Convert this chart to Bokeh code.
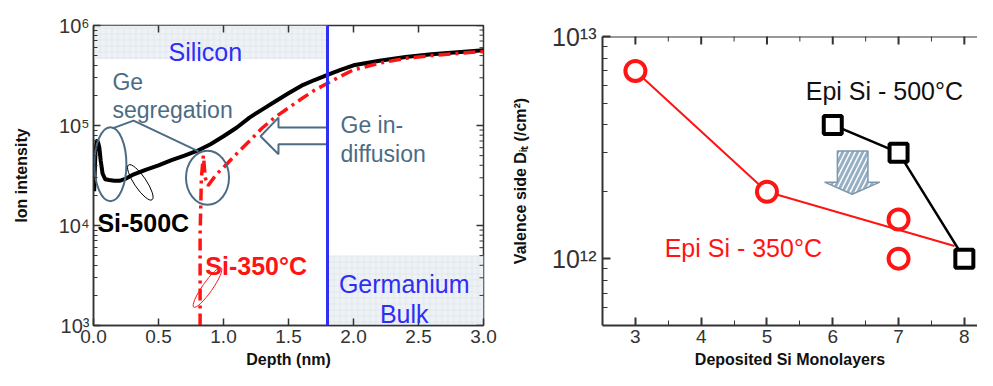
import math
from bokeh.plotting import figure
from bokeh.models import Range1d, FixedTicker, Label, Span
from bokeh.layouts import row, column
from bokeh.embed import file_html
from bokeh.resources import INLINE

FONT = "Liberation Sans"

# ---------------- Left panel data (SIMS Ge profile) ----------------
depth_500 = [0.005, 0.015, 0.025, 0.035, 0.045, 0.055, 0.07, 0.09, 0.12, 0.16, 0.2, 0.25,
             0.3, 0.4, 0.5, 0.6, 0.7, 0.8, 0.9, 1.0, 1.1, 1.2, 1.3, 1.4, 1.5, 1.6, 1.7,
             1.8, 1.9, 2.0, 2.2, 2.4, 2.6, 2.8, 3.0]
ion_500 = [2.2e4, 5.5e4, 7.0e4, 6.8e4, 6.0e4, 4.5e4, 3.3e4, 2.9e4, 2.85e4, 2.8e4, 2.8e4, 2.95e4,
           3.2e4, 3.6e4, 4.0e4, 4.5e4, 5.0e4, 5.6e4, 6.5e4, 7.8e4, 9.5e4, 1.2e5, 1.45e5, 1.75e5,
           2.1e5, 2.5e5, 2.85e5, 3.2e5, 3.6e5, 4.0e5, 4.45e5, 4.85e5, 5.15e5, 5.4e5, 5.65e5]
depth_350 = [0.82, 0.82, 0.83, 0.845, 0.86, 0.88, 0.95, 1.0, 1.1, 1.2, 1.3, 1.4, 1.5, 1.6,
             1.7, 1.8, 1.9, 2.0, 2.2, 2.4, 2.6, 2.8, 3.0]
ion_350 = [1.0e3, 8.0e3, 3.0e4, 5.0e4, 3.0e4, 2.5e4, 3.3e4, 3.8e4, 5.2e4, 7.0e4, 9.5e4, 1.22e5,
           1.5e5, 1.85e5, 2.25e5, 2.65e5, 3.1e5, 3.6e5, 4.2e5, 4.7e5, 5.0e5, 5.25e5, 5.5e5]
interface_depth = 1.8
silicon_band = [0.0, 1.8, 4.6e5, 1.0e6]      # left, right, bottom, top
germanium_band = [1.8, 3.0, 1.0e3, 5.0e3]
x_ticks_left = [0.0, 0.5, 1.0, 1.5, 2.0, 2.5, 3.0]
x_tick_labels_left = ["0.0", "0.5", "1.0", "1.5", "2.0", "2.5", "3.0"]
y_ticks_left = [1e3, 1e4, 1e5, 1e6]
y_tick_labels_left = ["10³", "10⁴", "10⁵", "10⁶"]

# annotation shapes (left)
big_ell_x = [0.13, 0.877]
big_ell_y = [4.1e4, 3.0e4]
big_ell_w = [32, 43]
big_ell_h = [74, 54]
seg_line_x = [0.146, 0.308, 0.808]
seg_line_y = [9.35e4, 1.12e5, 5.5e4]
arrow_x = [1.8, 1.423, 1.423, 1.285, 1.423, 1.423, 1.8]
arrow_y = [9.55e4, 9.55e4, 1.2e5, 7.8e4, 5.16e4, 6.49e4, 6.49e4]

# ---------------- Right panel data (Dit vs monolayers) ----------------
ml_350 = [3, 5, 7, 7]
dit_350 = [7.0e12, 2.0e12, 1.5e12, 1.0e12]
ml_350_line = [3, 5, 7.85]
dit_350_line = [7.0e12, 2.0e12, 1.14e12]
ml_500 = [6, 7, 8]
dit_500 = [4.0e12, 3.0e12, 1.0e12]
x_ticks_right = [3, 4, 5, 6, 7, 8]
x_minor_right = [3.5, 4.5, 5.5, 6.5, 7.5]
y_ticks_right = [1e12, 1e13]
y_tick_labels_right = ["10¹²", "10¹³"]
harrow_x = [6.07, 6.535, 6.535, 6.715, 6.295, 5.875, 6.07]
harrow_y = [3.05e12, 3.05e12, 2.21e12, 2.21e12, 1.95e12, 2.21e12, 2.21e12]

BLUE = "#2e2ef5"
STEEL = "#4b6c84"
RED = "#ff1414"
AX = "#333333"


def style_axis(ax, tick_in=7, minor_in=4, width=1.5, label_size="19px"):
    ax.major_tick_in = tick_in
    ax.major_tick_out = 0
    ax.minor_tick_in = minor_in
    ax.minor_tick_out = 0
    ax.axis_line_color = AX
    ax.axis_line_width = width
    ax.major_tick_line_color = AX
    ax.minor_tick_line_color = AX
    ax.major_tick_line_width = width
    ax.minor_tick_line_width = 1
    ax.major_label_text_font = FONT
    ax.major_label_text_font_size = label_size
    ax.major_label_text_color = "#333333"
    ax.major_label_standoff = 4
    ax.axis_label_text_font = FONT
    ax.axis_label_text_font_style = "bold"
    ax.axis_label_text_font_size = "16px"
    ax.axis_label_text_color = "#111111"


def lab(p, x, y, text, color, size="25px", style="normal", align="left"):
    p.add_layout(Label(x=x, y=y, text=text, text_color=color, text_font=FONT,
                       text_font_size=size, text_font_style=style, text_align=align,
                       text_baseline="alphabetic"))


# ================= LEFT FIGURE =================
p1 = figure(width=500, height=370, x_range=Range1d(0, 3), y_range=Range1d(1e3, 1e6),
            y_axis_type="log", output_backend="svg", toolbar_location=None, title=None,
            min_border_left=93, min_border_right=17, min_border_top=25, min_border_bottom=44)
p1.grid.visible = False
p1.outline_line_color = AX
p1.outline_line_width = 1.5

minor_left = [m * 10 ** e for e in range(3, 6) for m in range(2, 10)]

p1.xaxis.ticker = FixedTicker(ticks=x_ticks_left)
p1.xaxis.major_label_overrides = dict(zip(x_ticks_left, x_tick_labels_left))
p1.xaxis.axis_label = "Depth (nm)"
p1.yaxis.ticker = FixedTicker(ticks=y_ticks_left, minor_ticks=minor_left)
p1.yaxis.major_label_overrides = dict(zip(y_ticks_left, y_tick_labels_left))
p1.yaxis.axis_label = "Ion intensity"
style_axis(p1.xaxis[0])
style_axis(p1.yaxis[0], label_size="20px")
p1.xaxis.axis_label_standoff = 5
p1.yaxis.axis_label_standoff = 26

# shaded bands
p1.quad(left=[silicon_band[0], germanium_band[0]], right=[silicon_band[1], germanium_band[1]],
        bottom=[silicon_band[2], germanium_band[2]], top=[silicon_band[3], germanium_band[3]],
        fill_color="#eef2f6", line_color=None, hatch_pattern="+", hatch_color="#d9e0e8",
        hatch_scale=6, hatch_weight=0.6)

# mirrored ticks on top and right edges (drawn as clipped dash markers)
p1.scatter(x_ticks_left, [y_ticks_left[-1]] * len(x_ticks_left), marker="dash",
           angle=math.pi / 2, size=14, line_color=AX, line_width=1.5)
p1.scatter([x_ticks_left[-1]] * len(y_ticks_left), y_ticks_left, marker="dash",
           size=14, line_color=AX, line_width=1.5)
p1.scatter([x_ticks_left[-1]] * len(minor_left), minor_left, marker="dash",
           size=8, line_color=AX, line_width=1)

# data curves
p1.line(depth_500, ion_500, line_color="black", line_width=4, line_join="round")
p1.line(depth_350, ion_350, line_color=RED, line_width=3.5, line_dash="12 5 3 5")

# annotations
p1.ellipse(x=big_ell_x, y=big_ell_y, width=big_ell_w, height=big_ell_h,
           width_units="screen", height_units="screen", fill_color=None,
           line_color=STEEL, line_width=2)
p1.line(seg_line_x, seg_line_y, line_color=STEEL, line_width=2)
p1.ellipse(x=[0.36], y=[2.7e4], width=[42], height=[12], angle=[-56 * math.pi / 180],
           width_units="screen", height_units="screen", fill_color=None,
           line_color="black", line_width=1)
p1.ellipse(x=[0.877], y=[2.4e3], width=[48], height=[10], angle=[55 * math.pi / 180],
           width_units="screen", height_units="screen", fill_color=None,
           line_color=RED, line_width=1)
p1.patch(arrow_x, arrow_y, fill_color="white", line_color=STEEL, line_width=2)

# interface line
p1.add_layout(Span(location=interface_depth, dimension="height", line_color=BLUE, line_width=3))

lab(p1, 0.86, 5.4e5, "Silicon", BLUE, align="center")
lab(p1, 0.146, 2.73e5, "Ge", STEEL, size="23px")
lab(p1, 0.146, 1.44e5, "segregation", STEEL, size="23px")
lab(p1, 1.9, 1.02e5, "Ge  in-", STEEL, size="23px")
lab(p1, 1.9, 5.16e4, "diffusion", STEEL, size="23px")
lab(p1, 0.03, 1.05e4, "Si-500C", "black", style="bold")
lab(p1, 0.86, 3.93e3, "Si-350°C", RED, style="bold")
lab(p1, 2.39, 2.6e3, "Germanium", BLUE, align="center")
lab(p1, 2.39, 1.29e3, "Bulk", BLUE, align="center")

# ================= RIGHT FIGURE =================
p2 = figure(width=477, height=370, x_range=Range1d(2.5, 8.2), y_range=Range1d(5e11, 1e13),
            y_axis_type="log", output_backend="svg", toolbar_location=None, title=None,
            min_border_left=102, min_border_right=0, min_border_top=36, min_border_bottom=42)
p2.grid.visible = False
p2.outline_line_color = None

minor_right = [m * 10 ** e for e in (11, 12) for m in range(2, 10) if 5e11 < m * 10 ** e < 1e13]

p2.xaxis.ticker = FixedTicker(ticks=x_ticks_right, minor_ticks=x_minor_right)
p2.xaxis.axis_label = "Deposited Si Monolayers"
p2.yaxis.ticker = FixedTicker(ticks=y_ticks_right, minor_ticks=minor_right)
p2.yaxis.major_label_overrides = dict(zip(y_ticks_right, y_tick_labels_right))
p2.yaxis.axis_label = "Valence side Dᵢₜ (/cm²)"
style_axis(p2.xaxis[0], tick_in=8, minor_in=5, width=2)
style_axis(p2.yaxis[0], tick_in=8, minor_in=5, width=2, label_size="25px")
p2.yaxis.major_label_standoff = 6
p2.xaxis.axis_label_standoff = 5
p2.yaxis.axis_label_standoff = 20

# top frame line and mirrored ticks
p2.add_layout(Span(location=y_ticks_right[-1], dimension="width", line_color=AX, line_width=2))
p2.scatter(x_ticks_right, [y_ticks_right[-1]] * len(x_ticks_right), marker="dash",
           angle=math.pi / 2, size=16, line_color=AX, line_width=2)
p2.scatter(x_minor_right, [y_ticks_right[-1]] * len(x_minor_right), marker="dash",
           angle=math.pi / 2, size=10, line_color=AX, line_width=1)

p2.line(ml_350_line, dit_350_line, line_color=RED, line_width=2)
p2.line(ml_500, dit_500, line_color="black", line_width=2.5)
p2.scatter(ml_350, dit_350, marker="circle", size=20, line_color=RED, line_width=4,
           fill_color="white")
p2.scatter(ml_500, dit_500, marker="square", size=18, line_color="black", line_width=4,
           fill_color="white")
p2.patch(harrow_x, harrow_y, fill_color="white", line_color="#7d98ae", line_width=1.5,
         hatch_pattern="/", hatch_color="#97afc4", hatch_scale=10, hatch_weight=3)

lab(p2, 5.59, 5.66e12, "Epi Si - 500°C", "#111111")
lab(p2, 3.445, 1.12e12, "Epi Si - 350°C", RED)

layout = row(column(p1), column(p2))
open("out.html", "w").write(file_html(layout, INLINE))
